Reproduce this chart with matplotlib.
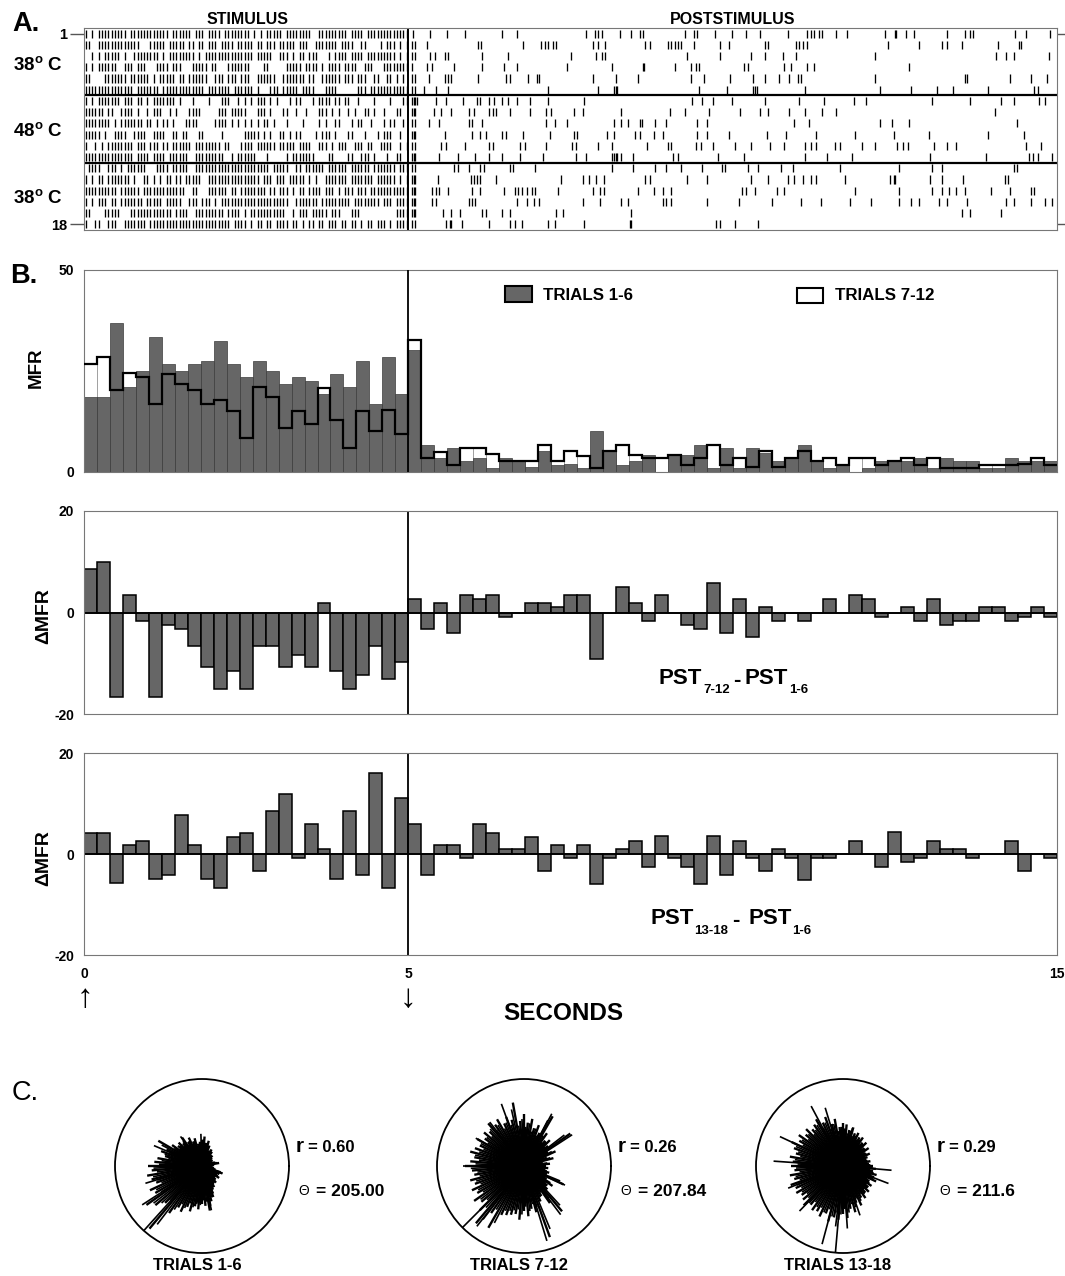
import numpy as np
import matplotlib.pyplot as plt
from matplotlib.patches import Rectangle

plt.rcParams['font.family'] = ['Liberation Sans', 'DejaVu Sans']
plt.rcParams['font.weight'] = 'bold'
plt.rcParams['axes.unicode_minus'] = False
plt.rcParams['mathtext.fontset'] = 'custom'
plt.rcParams['mathtext.rm'] = 'Liberation Sans:bold'
plt.rcParams['mathtext.it'] = 'Liberation Sans:bold'
plt.rcParams['mathtext.bf'] = 'Liberation Sans:bold'

W, H = 1065, 1276

# ---------------- data ----------------
# stimulus period (0-5 s): one char per 50 ms, '|' = spike
stim_rows = [
    "|.|.|||||| |||.|||||| ||||||.||| |||.|||.|| ||.||||||| |.|.|.|||| |.|||||||| ..|||||||| |.||||.||| ||||||||||",
    "||..|||||| |||||||... |||||.|||| |.||.||.|| |.||||.||| ||.||.|||. |||||.|||. .|||||||.| |||..||... .|.|||.|.|",
    "..|.|.|||| |.|..||||| |||.|.|||| ||||.|.||| |||||||||| ||.|||||.. |||.|.||.| ||...|.||| |.||||.||| ||||||.|.|",
    "|.|.|||||| ..|||.|||. ..||||.||| ...|||||.| |...|||||| |....||... ..|||||.|| ||.|.||||. ||||..|||. ..||||||||",
    "||....|||| |||.|||||| .|.|||||.| |.||||||.. |||.|||.|| |..||||||. .|||||||.| |..||||||. |||.|||..| |..||.|.|.",
    "|||||||||| |||||.|||| |||.|||||| |||||||.|| |||||.|||| ||.|...||| .|||||.||| |...||||.. ....|||.|| ||||||||||",
    "|.|.|||||| |.|||.||.| .|||||||.| ...|....|. ..|||..|.| .|.|||.|.| ...|.||... |.||||.||. ||..|....| ....|...||",
    "||||||.||. .||||.|..| .|||..|.|. ..||||.... .|||.||||| ...|||.|.. .||..|..|. ..|||.|.|. .|.|..||.| ..|...||..",
    "||||||||.| .|||||||.| |.|.||.|.. .||||..... ||||.|.|.| .|.|.||.|. ..|....|.. ..|.|..||. ..|.||..|. ..|.||..|.",
    "|||||.|..| |||..||||. .||||..||. ||...||... ..|......| ||||.|.|.. ||.|.||... .|.|||.|.. .||...|... |.|||..|..",
    "|..|.|.||| |||||.|||. |||.||.||| |||.|||||| ||.||...|| ||.||||||. |||||.|||| ..|||.|.|| |..|||.||. .||||..|.|",
    "|||||||||| |||||.|||| .||||.|||| ||..|||||| |||..|.||| |||...|... ..|.|||||| |....||... .||..|||.| ...|..||..",
    ".||||..||| .|.||||||. ..||||.||| ||..|||||| |||||||||| |||||||.|| |||..||.|| ||||.||||| |.||||||.| ||||||.|||",
    "|.|.||.||| ||||.|..|| .|.|.||.|| .|||||..|| |||||||||| ||||.|||.| ||.|||||.| .|..|||||| |.|||||||. ||||||.|.|",
    "|||||||||| .||||||.|| |||||||||| |..||...|| ||||.||.|| ||||||.||. |||.|.||.| |||.|||.|. |||.|||.|| ||||||||||",
    "|.|.|||.|| .|||||||.| ||||.||||| ..|||.|||. |.|||||||| |||||||||| |||..||||| ||.||||||| ||.||||||| |.|||.||||",
    "||....|||| |...|||||| |||||||.|| ||..|||||| |||.||||.| .||||||||| ||..|.|||. |||||.|||. ..|||..... ......||||",
    "|..||..||| ..|||||||. |||||||||| |||||||||| |||||.|||| .|.||.||.| |||.||.|.| |.||.|||.| |.||.|.||. |||.|.||||",
]

# poststimulus period (5-15 s): spike times in seconds
post_spikes = [
    [5.07, 5.34, 5.6, 5.87, 6.45, 6.67, 7.74, 7.87, 7.93, 7.98, 8.27, 8.43, 8.57, 8.62, 9.27, 9.4, 9.45, 9.72, 9.99,
     10.2, 10.42, 10.85, 11.14, 11.2, 11.25, 11.33, 11.38, 11.6, 11.76, 12.35, 12.5, 12.52, 12.67, 12.8, 13.31,
     13.58, 13.66, 13.71, 14.36, 14.52, 14.89],
    [5.05, 5.1, 5.29, 6.08, 6.12, 6.77, 7.04, 7.1, 7.15, 7.23, 7.28, 7.85, 7.93, 8.03, 8.65, 8.73, 9.0, 9.05, 9.11,
     9.16, 9.21, 9.4, 9.8, 9.94, 10.5, 10.55, 10.98, 11.03, 11.09, 11.14, 12.4, 12.88, 13.23, 13.31, 13.53, 14.09,
     14.41, 14.44],
    [5.06, 5.11, 5.34, 5.41, 5.56, 5.61, 6.14, 6.53, 7.5, 7.9, 7.98, 8.03, 9.29, 9.8, 10.28, 10.5, 10.77, 10.98,
     12.19, 14.06, 14.22, 14.33, 14.87],
    [5.05, 5.29, 5.37, 5.71, 6.14, 6.48, 6.67, 7.44, 8.14, 8.62, 8.64, 9.11, 9.35, 9.43, 9.48, 10.18, 10.23, 10.79,
     10.9, 11.14, 11.25, 12.72],
    [5.05, 5.1, 5.32, 5.56, 5.61, 5.66, 6.08, 6.5, 6.56, 6.85, 6.98, 7.02, 7.85, 8.2, 8.54, 9.35, 9.56, 9.96, 10.31,
     10.5, 10.71, 10.87, 11.01, 11.06, 12.19, 13.58, 13.61, 14.28, 14.6, 14.84],
    [5.05, 5.1, 5.24, 5.42, 5.61, 7.15, 7.93, 8.17, 8.2, 8.22, 9.48, 9.91, 10.31, 10.34, 10.37, 11.12, 12.27, 12.75,
     13.15, 13.39, 13.93, 14.65, 14.71],
    [5.05, 5.08, 5.1, 5.13, 5.42, 5.58, 5.85, 6.06, 6.11, 6.24, 6.32, 6.45, 6.53, 6.67, 6.88, 7.15, 7.71, 9.37, 9.53,
     9.7, 9.99, 10.5, 11.03, 11.41, 11.87, 12.05, 13.07, 13.66, 14.14, 14.33, 14.73, 14.81],
    [5.05, 5.08, 5.1, 5.4, 5.5, 5.66, 5.93, 6.01, 6.24, 6.3, 6.35, 6.56, 6.88, 7.12, 7.2, 7.55, 7.69, 8.28, 9.03,
     9.27, 9.64, 10.12, 10.42, 10.55, 10.87, 11.12, 11.38, 11.6, 14.04],
    [5.05, 5.1, 5.32, 5.48, 5.93, 5.98, 6.14, 7.12, 7.26, 7.44, 8.17, 8.28, 8.38, 8.57, 8.6, 8.81, 8.97, 9.45, 9.61,
     10.95, 11.17, 12.27, 12.46, 12.72, 14.38],
    [5.05, 5.08, 5.1, 5.56, 5.98, 6.11, 6.19, 6.45, 6.5, 6.77, 7.18, 7.55, 7.6, 8.06, 8.17, 8.49, 8.57, 8.78, 8.92,
     9.45, 9.61, 9.94, 10.53, 10.82, 11.28, 11.89, 12.48, 13.02, 13.93, 14.49],
    [5.05, 5.1, 5.5, 5.58, 5.87, 6.24, 6.3, 6.72, 6.8, 7.12, 7.52, 7.58, 7.93, 8.14, 8.68, 9.0, 9.05, 9.43, 9.51,
     9.7, 10.04, 10.28, 10.58, 10.79, 11.12, 11.2, 11.28, 11.57, 11.65, 12.0, 12.19, 12.54, 12.62, 12.7, 13.1,
     13.31, 13.45, 14.52, 14.76],
    [5.05, 5.08, 5.1, 5.48, 5.77, 6.03, 6.24, 6.45, 6.72, 7.07, 7.58, 7.74, 8.14, 8.17, 8.2, 8.22, 8.28, 8.46, 9.08,
     9.16, 9.78, 10.18, 11.12, 11.46, 11.84, 13.04, 13.9, 14.57, 14.63, 14.71, 14.92],
    [5.05, 5.1, 5.71, 5.77, 5.93, 6.11, 6.16, 6.56, 6.61, 6.96, 8.14, 8.46, 8.81, 8.97, 9.21, 9.53, 9.83, 9.88,
     10.23, 10.39, 10.74, 10.93, 11.65, 12.56, 13.07, 13.23, 14.33, 14.38],
    [5.05, 5.08, 5.1, 5.45, 5.96, 6.01, 6.06, 6.11, 6.35, 7.36, 7.69, 7.79, 7.9, 8.01, 8.65, 8.73, 9.29, 9.61,
     10.28, 10.55, 10.85, 10.95, 11.09, 11.2, 11.28, 11.73, 12.43, 12.48, 12.51, 13.04, 13.23, 13.55, 14.2, 14.25],
    [5.05, 5.08, 5.1, 5.37, 5.42, 5.48, 5.61, 5.98, 6.11, 6.48, 6.64, 6.69, 6.75, 6.83, 6.91, 6.96, 7.31, 7.85,
     7.95, 8.01, 8.54, 8.78, 8.92, 9.05, 10.15, 10.2, 10.34, 10.69, 10.79, 11.89, 12.56, 13.07, 13.23, 13.34,
     13.44, 13.58, 13.98, 14.28, 14.6, 14.65],
    [5.05, 5.08, 5.1, 5.37, 5.42, 5.93, 5.98, 6.03, 6.67, 6.83, 6.93, 7.02, 7.69, 7.95, 8.28, 8.38, 8.92, 8.97,
     9.05, 9.61, 10.1, 10.61, 11.06, 11.36, 11.81, 12.13, 12.56, 12.75, 12.88, 13.18, 13.31, 13.61, 14.22, 14.33,
     14.6, 14.81, 14.92],
    [5.05, 5.08, 5.1, 5.53, 5.66, 5.8, 6.14, 6.19, 6.45, 6.56, 7.28, 7.39, 8.44, 13.53, 13.66, 14.14],
    [5.05, 5.1, 5.58, 5.64, 5.66, 5.82, 6.24, 6.56, 6.64, 6.75, 7.15, 7.26, 7.71, 8.41, 8.44, 9.75, 9.8, 10.04,
     10.39],
]

# 200 ms bins, 0-15 s
mfr_1_6 = [18.5, 18.5, 36.8, 21.0, 25.1, 33.4, 26.8, 25.1, 26.8, 27.5, 32.5, 26.8, 23.4, 27.5, 25.1, 21.7, 23.4,
           22.6, 19.3, 24.3, 21.0, 27.5, 16.8, 28.4, 19.3,
           30.1, 6.8, 3.4, 6.0, 2.6, 3.4, 0.9, 3.4, 2.7, 1.3, 5.1, 1.7, 2.1, 1.1, 10.2, 5.1, 1.7, 2.7, 4.3, 0.0,
           4.3, 4.3, 6.6, 0.9, 6.0, 0.9, 6.0, 4.7, 2.7, 3.4, 6.8, 2.6, 1.1, 1.7, 0.0, 1.1, 2.6, 2.6, 2.6, 3.4,
           1.1, 3.4, 2.6, 2.6, 1.1, 1.1, 3.4, 2.7, 2.6, 2.6]
mfr_7_12 = [26.8, 28.5, 20.2, 24.5, 23.4, 16.8, 24.3, 21.7, 20.2, 16.8, 17.7, 15.1, 8.5, 21.0, 18.5, 11.0, 15.1,
            11.8, 20.9, 12.8, 6.0, 15.1, 10.2, 15.3, 9.4,
            32.6, 3.4, 4.9, 1.7, 6.0, 6.0, 4.4, 2.7, 2.7, 2.6, 6.6, 2.6, 5.1, 4.0, 1.1, 5.1, 6.8, 4.1, 3.4, 3.4,
            4.3, 1.7, 3.4, 6.8, 1.7, 3.4, 1.3, 5.1, 1.3, 3.4, 5.1, 2.6, 3.4, 1.7, 3.4, 3.4, 1.7, 2.6, 3.4, 1.7,
            3.4, 1.1, 1.1, 1.1, 1.7, 1.7, 1.7, 1.9, 3.4, 1.7]
delta_7_12 = [8.5, 10.0, -16.6, 3.5, -1.6, -16.6, -2.4, -3.3, -6.6, -10.7, -15.1, -11.5, -15.1, -6.6, -6.6, -10.7,
              -8.3, -10.7, 1.8, -11.5, -15.1, -12.4, -6.6, -13.2, -9.8,
              2.6, -3.3, 1.8, -4.1, 3.5, 2.6, 3.5, -0.8, 0, 1.8, 1.8, 1.0, 3.5, 3.5, -9.1, 0, 5.0, 1.8, -1.7, 3.5,
              0, -2.5, -3.2, 5.8, -4.0, 2.6, -4.9, 1.0, -1.7, 0, -1.7, 0, 2.6, 0, 3.5, 2.6, -0.8, 0, 1.0, -1.7,
              2.6, -2.5, -1.7, -1.7, 1.0, 1.0, -1.7, -0.8, 1.0, -0.8]
delta_13_18 = [4.2, 4.2, -5.8, 1.7, 2.6, -5.0, -4.1, 7.7, 1.7, -5.0, -6.7, 3.4, 4.2, -3.3, 8.5, 11.8, -0.8, 6.0,
               1.0, -5.0, 8.5, -4.1, 16.0, -6.7, 11.0,
               6.0, -4.1, 1.7, 1.7, -0.8, 6.0, 4.2, 1.0, 1.0, 3.4, -3.3, 1.7, -0.8, 1.7, -5.9, -0.8, 0.9, 2.6, -2.6,
               3.5, -0.8, -2.6, -5.9, 3.5, -4.2, 2.6, -0.8, -3.3, 0.9, -0.8, -5.1, -0.8, -0.8, 0, 2.6, 0, -2.6,
               4.3, -1.6, -0.8, 2.6, 0.9, 0.9, -0.8, 0, 0, 2.6, -3.3, 0, -0.8]

# phase plots: spoke lengths every 5 degrees (0..355) plus long single spokes
spoke_angles = np.arange(0, 360, 5)
core_1_6 = [.12, .14, .2, .16, .13, .12, .14, .13, .15, .17, .16, .2, .22, .19, .25, .3, .27, .34, .3, .28, .26,
            .33, .3, .36, .32, .4, .34, .38, .36, .42, .58, .45, .5, .44, .52, .55, .62, .58, .64, .6, .56, .66,
            .62, .78, .7, .6, .94, .66, .55, .58, .5, .54, .47, .5, .44, .46, .52, .42, .38, .3, .28, .24, .25,
            .22, .2, .24, .2, .22, .25, .16, .14, .12]
core_7_12 = [.25, .3, .22, .35, .28, .4, .32, .65, .36, .42, .38, .46, .66, .42, .5, .45, .55, .5, .6, .52, .74,
             .55, .6, .54, .62, .58, .64, .56, .6, .55, .62, .56, .6, .64, .58, .62, .68, .6, .58, .64, .6, .66,
             .62, .7, .64, .72, .86, .66, .82, .62, .6, .58, .56, .62, .52, .58, .5, .55, .87, .45, .4, .52, .68,
             .38, .35, .4, .3, .5, .28, .3, .25, .28]
core_13_18 = [.35, .3, .32, .28, .3, .34, .3, .36, .32, .38, .35, .4, .38, .42, .4, .46, .42, .48, .5, .45, .55,
              .5, .6, .55, .62, .58, .55, .6, .56, .62, .58, .65, .6, .56, .62, .58, .6, .56, .62, .58, .64, .6,
              .62, .58, .6, .64, .58, .62, .6, .64, .58, .66, .6, .62, .55, .6, .5, .55, .45, .5, .42, .45, .4,
              .42, .38, .4, .35, .42, .38, .4, .35, .38]
long_ang_1_6 = [228, 213, 157, 126, 92, 340, 282, 262, 197]
long_len_1_6 = [1.0, 0.82, 0.6, 0.42, 0.37, 0.25, 0.52, 0.44, 0.68]
long_ang_7_12 = [225, 110, 128, 62, 33, 335, 307, 287, 232, 180, 150]
long_len_7_12 = [1.0, 0.76, 0.64, 0.68, 0.66, 0.52, 0.7, 0.9, 0.88, 0.7, 0.64]
long_ang_13_18 = [176, 155, 118, 107, 265, 255, 274, 355, 339, 76, 202, 226, 289, 263]
long_len_13_18 = [0.8, 0.8, 0.78, 0.7, 1.0, 0.93, 0.72, 0.56, 0.56, 0.45, 0.68, 0.72, 0.6, 0.7]

phase_titles = ['TRIALS 1-6', 'TRIALS 7-12', 'TRIALS 13-18']
phase_r = ['0.60', '0.26', '0.29']
phase_theta = ['205.00', '207.84', '211.6']

# ---------------- drawing ----------------
fig = plt.figure(figsize=(W / 100, H / 100), dpi=100)


def ft(x, y, s, **kw):
    return fig.text(x / W, 1 - y / H, s, **kw)


def box(x0, y0, x1, y1, **kw):
    return fig.add_axes([x0 / W, 1 - y1 / H, (x1 - x0) / W, (y1 - y0) / H], **kw)


GRAY = '#666666'
SPINE = '#777777'

# A. raster
ax = box(84, 28, 1057, 230)
spikes = []
for srow, prow in zip(stim_rows, post_spikes):
    s = srow.replace(' ', '')
    st = [(i + 0.5) * 0.05 for i, c in enumerate(s) if c == '|']
    spikes.append(st + prow)
ax.eventplot(spikes, lineoffsets=np.arange(18) + 0.5, linelengths=0.72, linewidths=0.95, colors='k')
ax.set_xlim(0, 15)
ax.set_ylim(18, 0)
ax.axhline(6, color='k', lw=1.6)
ax.axhline(12, color='k', lw=1.6)
ax.axvline(5, color='k', lw=1.4)
ax.set_xticks([])
ax.set_yticks([0.5, 17.5])
ax.set_yticklabels(['1', '18'])
ax.tick_params(axis='y', length=10, width=1, color='#555555', labelsize=10.5, pad=2, right=True)
for sp in ax.spines.values():
    sp.set_color(SPINE)

ft(12, 24, 'A.', fontsize=19.5, va='center')
ft(248, 19, 'STIMULUS', fontsize=11.5, ha='center', va='center')
ft(733, 19, 'POSTSTIMULUS', fontsize=11.5, ha='center', va='center')
for y, lab in [(65, r'38$^{\rm o}$ C'), (131, r'48$^{\rm o}$ C'), (198, r'38$^{\rm o}$ C')]:
    ft(13, y, lab, fontsize=13.5, va='center')

edges = np.linspace(0, 15, 76)

# B. MFR histogram
ax = box(84, 270, 1057, 472)
ax.bar(edges[:-1], mfr_7_12, width=0.2, align='edge', color='white', edgecolor='#999999', lw=0.6, zorder=1)
ax.bar(edges[:-1], mfr_1_6, width=0.2, align='edge', color=GRAY, edgecolor='#3c3c3c', lw=0.5, zorder=2)
ax.stairs(mfr_7_12, edges, color='k', lw=1.6, baseline=None, zorder=3)
ax.axvline(5, color='k', lw=1.3, zorder=4)
ax.set_xlim(0, 15)
ax.set_ylim(0, 50)
ax.set_xticks([])
ax.set_yticks([0, 50])
ax.tick_params(axis='y', length=0, labelsize=10, pad=7)
for sp in ax.spines.values():
    sp.set_color(SPINE)
ax.add_patch(Rectangle((0.433, 0.842), 0.027, 0.079, transform=ax.transAxes, facecolor=GRAY,
                       edgecolor='k', lw=1.5))
ax.text(0.472, 0.876, 'TRIALS 1-6', transform=ax.transAxes, fontsize=12.2, va='center')
ax.add_patch(Rectangle((0.733, 0.837), 0.026, 0.074, transform=ax.transAxes, facecolor='white',
                       edgecolor='k', lw=1.5))
ax.text(0.772, 0.876, 'TRIALS 7-12', transform=ax.transAxes, fontsize=12.2, va='center')
ft(10, 276, 'B.', fontsize=19.5, va='center')
ft(36, 368, 'MFR', fontsize=13.5, rotation=90, ha='center', va='center')

# difference histograms
for (y0, y1), d, ylab_y in [((511, 714), delta_7_12, 616), ((753, 955), delta_13_18, 858)]:
    ax = box(84, y0, 1057, y1)
    ax.bar(edges[:-1], d, width=0.2, align='edge', color=GRAY, edgecolor='k', lw=1.1)
    ax.axhline(0, color='k', lw=1.3)
    ax.axvline(5, color='k', lw=1.3)
    ax.set_xlim(0, 15)
    ax.set_ylim(-20, 20)
    ax.set_yticks([-20, 0, 20])
    ax.tick_params(axis='both', length=0, labelsize=10, pad=7)
    for sp in ax.spines.values():
        sp.set_color(SPINE)
    ax.set_xticks([])
    ft(44, ylab_y, '\u0394MFR', fontsize=14, rotation=90, ha='center', va='center')

ax.set_xticks([0, 5, 15])
ax.tick_params(axis='x', pad=9)

# PST labels
ft(659, 678, 'PST', fontsize=16, va='center')
ft(703, 690, '7-12', fontsize=9.5, va='center')
ft(733, 680, '-', fontsize=16, va='center')
ft(745, 678, 'PST', fontsize=16, va='center')
ft(789, 690, '1-6', fontsize=9.5, va='center')

ft(650, 919, 'PST', fontsize=16, va='center')
ft(694, 931, '13-18', fontsize=9.5, va='center')
ft(732, 921, '-', fontsize=16, va='center')
ft(748, 919, 'PST', fontsize=16, va='center')
ft(792, 931, '1-6', fontsize=9.5, va='center')

ft(85, 999, '\u2191', fontsize=24, fontweight='normal', ha='center', va='center')
ft(408, 999, '\u2193', fontsize=24, fontweight='normal', ha='center', va='center')
ft(563, 1014, 'SECONDS', fontsize=17.5, ha='center', va='center')

# C. phase plots
ft(12, 1093, 'C.', fontsize=19.5, fontweight='normal', va='center')
cores = [core_1_6, core_7_12, core_13_18]
longs = [(long_ang_1_6, long_len_1_6), (long_ang_7_12, long_len_7_12), (long_ang_13_18, long_len_13_18)]
centers = [202, 524, 843]
for k, cx in enumerate(centers):
    ax = box(cx - 87, 1166 - 87, cx + 87, 1166 + 87, projection='polar')
    ax.vlines(np.deg2rad(spoke_angles), 0, cores[k], colors='k', lw=1.7)
    ax.vlines(np.deg2rad(spoke_angles + 2.5), 0, np.array(cores[k]) * 0.9, colors='k', lw=1.2)
    la, ll = longs[k]
    ax.vlines(np.deg2rad(la), 0, ll, colors='k', lw=1.2)
    ax.set_ylim(0, 1)
    ax.set_xticks([])
    ax.set_yticks([])
    ax.grid(False)
    ax.spines['polar'].set_linewidth(1.3)
    ft(cx - 5, 1266, phase_titles[k], fontsize=12, ha='center', va='center')
    ft(cx + 94, 1146, 'r', fontsize=15, va='center')
    ft(cx + 106, 1148, '= ' + phase_r[k], fontsize=12, va='center')
    ft(cx + 96, 1191, '\u0398', fontsize=10, fontweight='normal', va='center')
    ft(cx + 114, 1192, '= ' + phase_theta[k], fontsize=12.5, va='center')

fig.savefig('out.png', dpi=100)
